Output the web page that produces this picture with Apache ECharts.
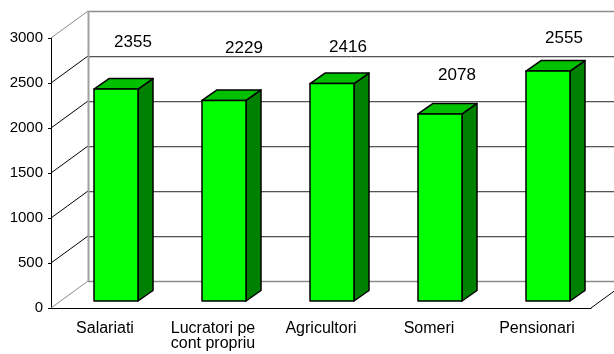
<!DOCTYPE html>
<html>
<head>
<meta charset="utf-8">
<script src="https://cdn.jsdelivr.net/npm/echarts@6/dist/echarts.min.js"></script>
<style>
  html, body { margin: 0; padding: 0; background: #fff; }
  #chart { width: 614px; height: 354px; }
</style>
</head>
<body>
<div id="chart"></div>
<script>
// Data
const categories = ['Salariati', 'Lucratori pe\ncont propriu', 'Agricultori', 'Someri', 'Pensionari'];
const values = [2355, 2229, 2416, 2078, 2555];
const yTicks = [0, 500, 1000, 1500, 2000, 2500, 3000];

// Pseudo-3D geometry (pixels)
const WALL_DX = 37, WALL_DY = -27;        // back wall offset from the front plane
const BAR_DX = 11, BAR_DY = -7;           // bar front face offset from the front plane
const BAR_W = 44;                         // bar front face width
const DEPTH_X = 15, DEPTH_Y = -10.5;      // bar depth
const labelLift = [47, 52, 36, 39, 33];   // value label height above each bar top
const labelShift = [28, 31, 27, 28, 27];  // value label shift right of category centre

const FONT = '"Liberation Sans", Arial, sans-serif';
const px = v => Math.round(v) + 0.5;

function renderWalls(params, api) {
  const cs = params.coordSys;
  const x0 = cs.x, x1 = cs.x + cs.width;
  const yTop = cs.y, yBottom = cs.y + cs.height;
  const bx0 = x0 + WALL_DX, bx1 = x1 + WALL_DX;
  const children = [];
  yTicks.forEach((t, i) => {
    const y = api.coord([0, t])[1];
    const yb = px(y + WALL_DY);
    const edge = (i === 0 || i === yTicks.length - 1);
    // side wall diagonal
    children.push({ type: 'line', shape: { x1: x0, y1: y, x2: bx0, y2: y + WALL_DY },
      style: { stroke: edge ? '#8c8c8c' : '#000', lineWidth: 1 } });
    // back wall gridline with light shadow
    if (!edge) {
      children.push({ type: 'line', shape: { x1: bx0, y1: yb + 1, x2: bx1, y2: yb + 1 },
        style: { stroke: '#cfcfcf', lineWidth: 1 } });
    }
    children.push({ type: 'line', shape: { x1: bx0, y1: yb, x2: bx1, y2: yb },
      style: { stroke: edge ? '#8c8c8c' : '#555', lineWidth: edge ? 1.5 : 1 } });
  });
  // back wall left edge
  children.push({ type: 'line', shape: { x1: bx0 + 0.5, y1: yTop + WALL_DY, x2: bx0 + 0.5, y2: yBottom + WALL_DY },
    style: { stroke: '#a0a0a0', lineWidth: 2 } });
  // floor right edge
  children.push({ type: 'line', shape: { x1: x1, y1: yBottom, x2: bx1, y2: yBottom + WALL_DY },
    style: { stroke: '#000', lineWidth: 1 } });
  return { type: 'group', children };
}

function renderBar(params, api) {
  const idx = api.value(0), v = api.value(1);
  const top = api.coord([idx, v]);
  const base = api.coord([idx, 0]);
  const cx = top[0] + BAR_DX;
  const xl = cx - BAR_W / 2, xr = cx + BAR_W / 2;
  const yt = top[1] + BAR_DY, yb = base[1] + BAR_DY;
  const edge = { stroke: '#000', lineWidth: 1.5, lineJoin: 'round' };
  return {
    type: 'group',
    children: [
      { type: 'polygon',
        shape: { points: [[xr, yt], [xr + DEPTH_X, yt + DEPTH_Y], [xr + DEPTH_X, yb + DEPTH_Y], [xr, yb]] },
        style: Object.assign({ fill: '#008000' }, edge) },
      { type: 'polygon',
        shape: { points: [[xl, yt], [xl + DEPTH_X, yt + DEPTH_Y], [xr + DEPTH_X, yt + DEPTH_Y], [xr, yt]] },
        style: Object.assign({ fill: '#00c000' }, edge) },
      { type: 'rect',
        shape: { x: xl, y: yt, width: BAR_W, height: yb - yt },
        style: Object.assign({ fill: '#00ff00' }, edge) },
      { type: 'text',
        x: top[0] + labelShift[idx], y: yt - labelLift[idx],
        style: { text: String(v), fill: '#000', font: '17px ' + FONT, align: 'center', verticalAlign: 'middle' } }
    ]
  };
}

const chart = echarts.init(document.getElementById('chart'), null, { renderer: 'canvas' });
chart.setOption({
  backgroundColor: '#fff',
  animation: false,
  grid: { left: 51, right: 23, top: 38, bottom: 46 },
  xAxis: {
    type: 'category',
    data: categories,
    axisLine: { lineStyle: { color: '#000', width: 1 } },
    axisTick: { length: 6, lineStyle: { color: '#000' } },
    axisLabel: { color: '#000', fontSize: 16, fontFamily: FONT, lineHeight: 15, margin: 13, interval: 0 },
    splitLine: { show: false }
  },
  yAxis: {
    type: 'value',
    min: yTicks[0],
    max: yTicks[yTicks.length - 1],
    interval: yTicks[1] - yTicks[0],
    axisLine: { show: true, lineStyle: { color: '#000', width: 1 } },
    axisTick: { show: true, length: 3, lineStyle: { color: '#000' } },
    axisLabel: { color: '#000', fontSize: 15, fontFamily: FONT, margin: 8, formatter: v => String(v) },
    splitLine: { show: false }
  },
  series: [
    { type: 'custom', renderItem: renderWalls, data: [[0, 0]], clip: false, z: 1, silent: true },
    { type: 'custom', renderItem: renderBar, data: values.map((v, i) => [i, v]),
      encode: { x: 0, y: 1 }, clip: false, z: 3 }
  ]
});
</script>
</body>
</html>
